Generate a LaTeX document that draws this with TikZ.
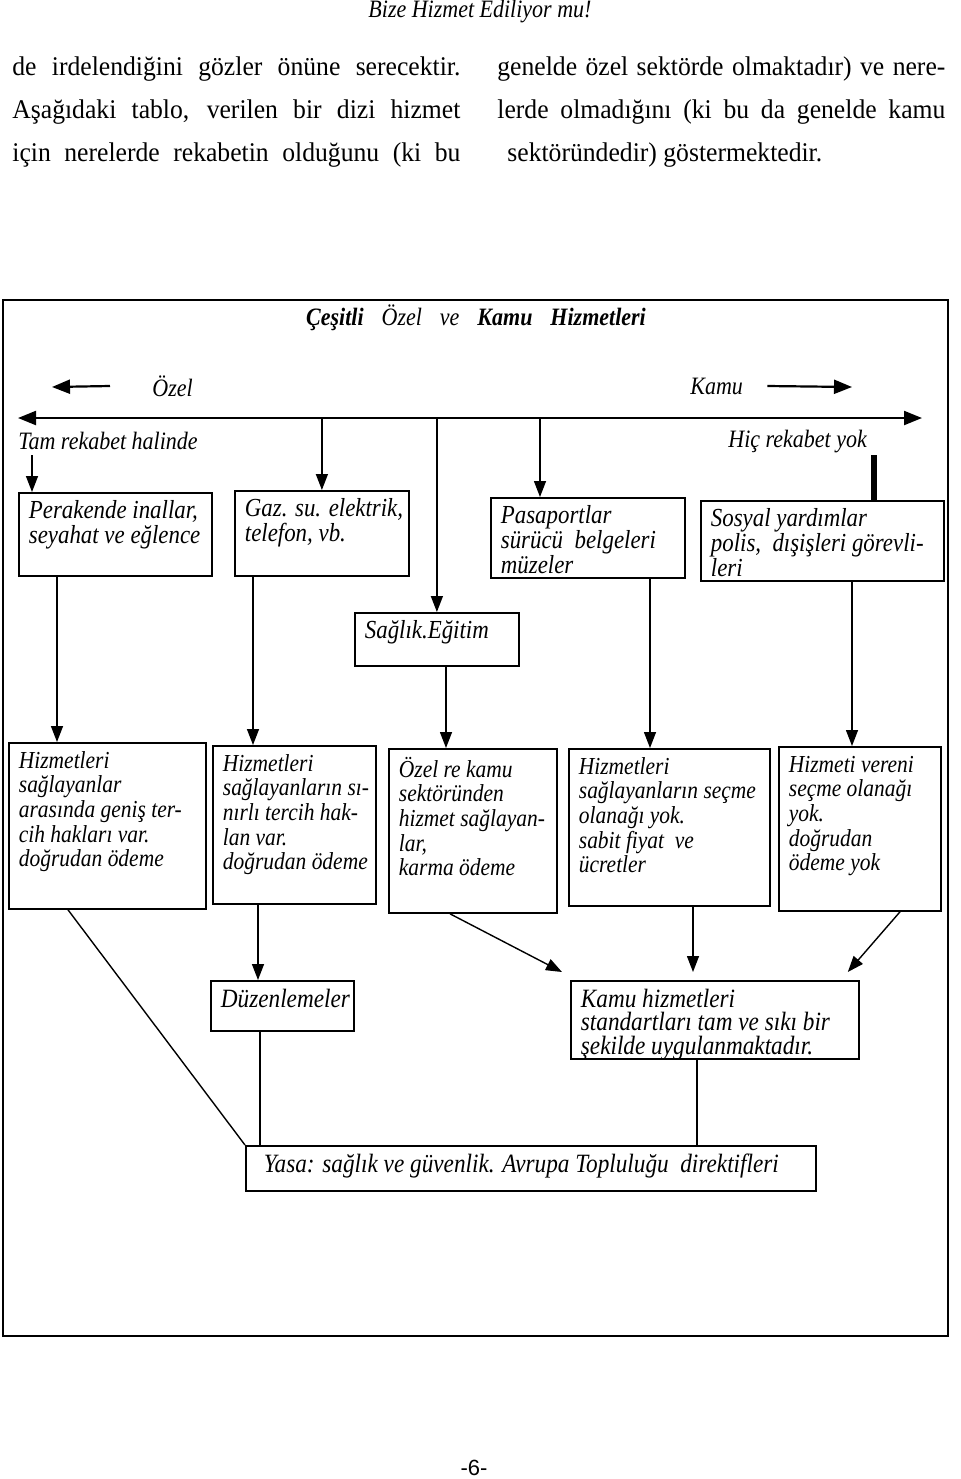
\documentclass[tikz,border=0pt]{standalone}
\usepackage{fontspec}
\setmainfont{Liberation Serif}
\setsansfont{Liberation Sans}
\newfontfamily\narrowfont[FakeStretch=0.88]{Liberation Serif}
\newfontfamily\bodyfont[FakeStretch=0.95]{Liberation Serif}
\usepackage{tikz}
\usetikzlibrary{arrows.meta}
\usetikzlibrary{positioning}
\usetikzlibrary{calc}
% lines of a box, one under the other, never wrapped
\newcommand{\boxrows}[1]{{\renewcommand{\arraystretch}{.8}\begin{tabular}[t]{@{}l@{}}#1\end{tabular}}}
\tikzset{
  % one unit is one pixel of the page scan
  px/.style={x=0.5pt,y=-0.5pt},
  % connectors between the boxes
  every edge/.append style={line width=.7pt},
  arr/.style={-{Triangle[length=8pt,width=6pt]},line width=.7pt},
  bigarr/.style={-{Triangle[length=9pt,width=7pt]},line width=1.1pt},
  % boxes: width and height in pixels, text lines at the top
  cbox/.style n args={2}{
    draw,line width=.9pt,anchor=north west,
    inner xsep=5pt,inner ysep=4pt,
    execute at begin node={\begin{minipage}[c][\dimexpr #2pt/2-8pt\relax][t]{\dimexpr #1pt/2-10pt\relax}\raggedright},
    execute at end node={\end{minipage}},
  },
  rowone/.style={font=\narrowfont\itshape\fontsize{13}{14}\selectfont},
  rowtwo/.style={font=\narrowfont\itshape\fontsize{12.2}{15.4}\selectfont},
  lowbox/.style={font=\narrowfont\itshape\fontsize{13.2}{11.7}\selectfont},
  label/.style={font=\narrowfont\itshape\fontsize{12.5}{14}\selectfont,inner sep=0pt},
  bodytext/.style={font=\bodyfont\fontsize{13.5}{21.5}\selectfont,inner sep=0pt,
    anchor=north west,text width=224pt,align=justify},
}

\begin{document}
\begin{tikzpicture}[px]
  \useasboundingbox (0,0) rectangle (960,1479);

  % running head and text above the chart
  \node[label] (head) at (480,12) {Bize Hizmet Ediliyor mu!};
  \node[bodytext] (colL) at (12,56) {\parfillskip=0pt
    de irdelendiğini gözler önüne serecektir.\linebreak
    Aşağıdaki tablo, verilen bir dizi hizmet\linebreak
    için nerelerde rekabetin olduğunu (ki bu\par};
  \node[bodytext] (colR) at (497,56) {
    genelde özel sektörde olmaktadır) ve nere-\linebreak
    lerde olmadığını (ki bu da genelde kamu\linebreak
    \hspace*{5pt}sektöründedir) göstermektedir.};

  % frame of the chart
  \draw[line width=1pt] (3,300) rectangle (948,1336);
  \node[label] (title) at (476,318)
    {\textbf{Çeşitli}\hspace{9pt}Özel\hspace{9pt}ve\hspace{9pt}\textbf{Kamu}\hspace{9pt}\textbf{Hizmetleri}};

  \node[label,anchor=west] (ozel) at (152,386) {Özel};
  \node[label,anchor=west] (kamu) at (690,386) {Kamu};
  \node[label,anchor=west] (tam) at (18,441) {Tam rekabet halinde};
  \node[label,anchor=west] (hic) at (728,442) {Hiç rekabet yok};

  \coordinate (ozelL) at (52,387);
  \coordinate (kamuR) at (852,387);
  \coordinate (axL) at (18,418);
  \coordinate (axR) at (922,418);
  \coordinate (tamF) at (32,455);
  \coordinate (hicF) at (874,455);
  \coordinate (pasX) at (540,0);

  \draw[bigarr] ([xshift=-21pt]ozel.west) -- (ozelL);
  \draw[bigarr] ([xshift=12pt]kamu.east) -- (kamuR);
  \draw[bigarr,{Triangle[length=9pt,width=7pt]}-{Triangle[length=9pt,width=7pt]}] (axL) -- (axR);

  % first row
  \node[cbox={193}{83},rowone] (perak) at (18,492)
    {\boxrows{Perakende inallar,\\ seyahat ve eğlence}};
  \node[cbox={174}{85},rowone] (gaz) at (234,490)
    {\boxrows{Gaz. su. elektrik,\\ telefon, vb.}};
  \node[cbox={194}{80},rowone] (pasa) at (490,497)
    {\boxrows{Pasaportlar\\ sürücü\ \ belgeleri\\ müzeler}};
  \node[cbox={243}{80},rowone] (sosyal) at (700,500)
    {\boxrows{Sosyal yardımlar\\ polis,\ \ dışişleri görevli-\\ leri}};
  \node[cbox={164}{53},rowone] (saglik) at (354,612)
    {\boxrows{Sağlık.Eğitim}};

  \path
  (tamF) edge[arr] (tamF |- perak.north)
  (gaz.north |- axL) edge[arr] (gaz.north)
  (saglik.north |- axL) edge[arr] (saglik.north)
  (pasX |- axL) edge[arr] (pasX |- pasa.north)
  (hicF) edge[line width=2.6pt] (hicF |- sosyal.north)
  ;

  % second row
  \node[cbox={197}{166},rowtwo] (b1) at (8,742)
    {\boxrows{Hizmetleri\\ sağlayanlar\\ arasında geniş ter-\\ cih hakları var.\\ doğrudan ödeme}};
  \node[cbox={163}{158},rowtwo] (b2) at (212,745)
    {\boxrows{Hizmetleri\\ sağlayanların sı-\\ nırlı tercih hak-\\ lan var.\\ doğrudan ödeme}};
  \node[cbox={168}{164},rowtwo] (b3) at (388,748)
    {\boxrows{Özel re kamu\\ sektöründen\\ hizmet sağlayan-\\ lar,\\ karma ödeme}};
  \node[cbox={201}{157},rowtwo] (b4) at (568,748)
    {\boxrows{Hizmetleri\\ sağlayanların seçme\\ olanağı yok.\\ sabit fiyat\ \ ve\\ ücretler}};
  \node[cbox={162}{164},rowtwo] (b5) at (778,746)
    {\boxrows{Hizmeti vereni\\ seçme olanağı\\ yok.\\ doğrudan\\ ödeme yok}};

  \coordinate (r1) at (57,0);
  \coordinate (r2) at (253,0);
  \coordinate (r3) at (446,0);
  \coordinate (r4) at (650,0);
  \coordinate (r5) at (852,0);

  \path
  (perak.south -| r1) edge[arr] (b1.north -| r1)
  (gaz.south -| r2) edge[arr] (b2.north -| r2)
  (saglik.south -| r3) edge[arr] (b3.north -| r3)
  (pasa.south -| r4) edge[arr] (b4.north -| r4)
  (sosyal.south -| r5) edge[arr] (b5.north -| r5)
  ;

  % lower boxes
  \node[cbox={143}{50},lowbox] (duz) at (210,980) {\boxrows{Düzenlemeler}};
  \node[cbox={288}{78},lowbox] (kamuh) at (570,980)
    {Kamu hizmetleri\\ standartları tam ve sıkı bir\\ şekilde uygulanmaktadır.};
  \node[cbox={570}{45},lowbox] (yasa) at (245,1145)
    {\boxrows{\hspace*{4pt}Yasa: sağlık ve güvenlik. Avrupa Topluluğu\ \ direktifleri}};

  \coordinate (s1) at (68,0);
  \coordinate (s2) at (258,0);
  \coordinate (s3) at (450,0);
  \coordinate (s4) at (693,0);
  \coordinate (s5) at (900,0);
  \coordinate (t1) at (260,0);
  \coordinate (t2) at (697,0);

  \path
  (b1.south -| s1) edge (yasa.north west)
  (b2.south -| s2) edge[arr] (duz.north -| s2)
  (b3.south -| s3) edge[arr] ([xshift=-4pt,yshift=4pt]kamuh.north west)
  (b4.south -| s4) edge[arr] ([yshift=4pt]kamuh.north -| s4)
  (b5.south -| s5) edge[arr] ([xshift=-6pt,yshift=4pt]kamuh.north east)
  (duz.south -| t1) edge (yasa.north -| t1)
  (kamuh.south -| t2) edge (yasa.north -| t2)
  ;

  \node[font=\sffamily\fontsize{11}{12}\selectfont] (page) at (474,1468) {-6-};
\end{tikzpicture}
\end{document}
